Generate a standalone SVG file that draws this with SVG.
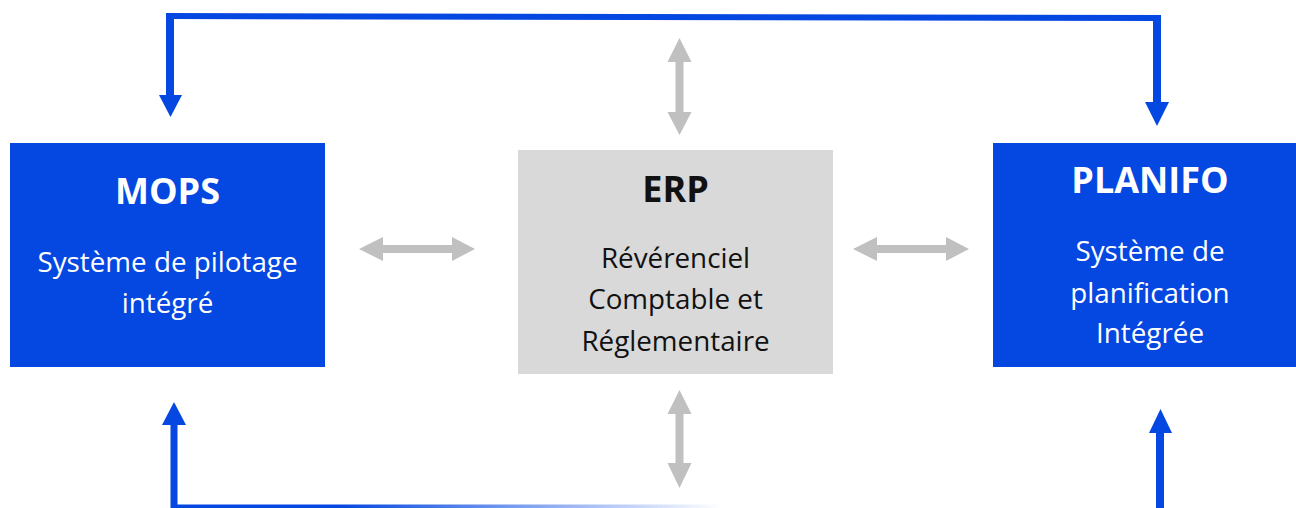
<svg xmlns="http://www.w3.org/2000/svg" width="1296" height="508" viewBox="0 0 1296 508">
  <style>
    .blue { fill: #0447e1; }
    .gray { fill: #c0c0c0; }
    .title { font-family: "Open Sans", "Noto Sans", sans-serif; font-weight: bold; font-size: 36px; text-anchor: middle; }
    .sub { font-family: "Open Sans", "Noto Sans", sans-serif; font-size: 27.8px; text-anchor: middle; }
    .w { fill: #ffffff; }
    .k { fill: #111111; }
  </style>
  <defs>
    <linearGradient id="fade" x1="174" y1="0" x2="722" y2="0" gradientUnits="userSpaceOnUse">
      <stop offset="0" stop-color="#0447e1"/>
      <stop offset="0.3" stop-color="#0447e1"/>
      <stop offset="1" stop-color="#0447e1" stop-opacity="0"/>
    </linearGradient>
  </defs>
  <rect width="1296" height="508" fill="#ffffff"/>

  <g id="connectors">
    <!-- top loop: MOPS <- -> PLANIFO -->
    <rect class="blue" x="166" y="13" width="8" height="84"/>
    <polygon class="blue" points="166,13 1161,15 1161,21 166,19"/>
    <rect class="blue" x="1153" y="15" width="8" height="89"/>
    <polygon class="blue" points="159,95 182,95 170.5,117"/>
    <polygon class="blue" points="1145,102 1169,102 1157,126"/>
    <!-- bottom -->
    <polygon class="blue" points="174,402 186,425 162,425"/>
    <rect class="blue" x="170.5" y="423" width="7" height="85"/>
    <rect x="174" y="504.5" width="548" height="3.5" fill="url(#fade)"/>
    <polygon class="blue" points="1160.5,409 1172,433 1149,433"/>
    <rect class="blue" x="1156" y="431" width="8" height="77"/>
    <!-- gray double arrows -->
    <polygon class="gray" points="359,249 383,237 383,245 452,245 452,237 475,249 452,261 452,253 383,253 383,261"/>
    <polygon class="gray" points="853,249 877,237 877,245 946,245 946,237 969,249 946,261 946,253 877,253 877,261"/>
    <polygon class="gray" points="679.5,38 691.5,62 683.5,62 683.5,112 691.5,112 679.5,135 667.5,112 675.5,112 675.5,62 667.5,62"/>
    <polygon class="gray" points="679.5,390 691.5,414 683.5,414 683.5,463 691.5,463 679.5,488 667.5,463 675.5,463 675.5,414 667.5,414"/>
  </g>

  <g id="mops">
    <rect class="blue" x="10" y="143" width="315" height="224"/>
    <text class="title w" x="167.5" y="204">MOPS</text>
    <text class="sub w" x="167.5" y="272">Système de pilotage</text>
    <text class="sub w" x="167.5" y="313">intégré</text>
  </g>

  <g id="erp">
    <rect x="518" y="150" width="315" height="224" fill="#d9d9d9"/>
    <text class="title k" x="675.5" y="202">ERP</text>
    <text class="sub k" x="675.5" y="268">Révérenciel</text>
    <text class="sub k" x="675.5" y="309">Comptable et</text>
    <text class="sub k" x="675.5" y="351">Réglementaire</text>
  </g>

  <g id="planifo">
    <rect class="blue" x="993" y="143" width="303" height="224"/>
    <text class="title w" x="1150" y="193">PLANIFO</text>
    <text class="sub w" x="1150" y="261">Système de</text>
    <text class="sub w" x="1150" y="303">planification</text>
    <text class="sub w" x="1150" y="343">Intégrée</text>
  </g>
</svg>
